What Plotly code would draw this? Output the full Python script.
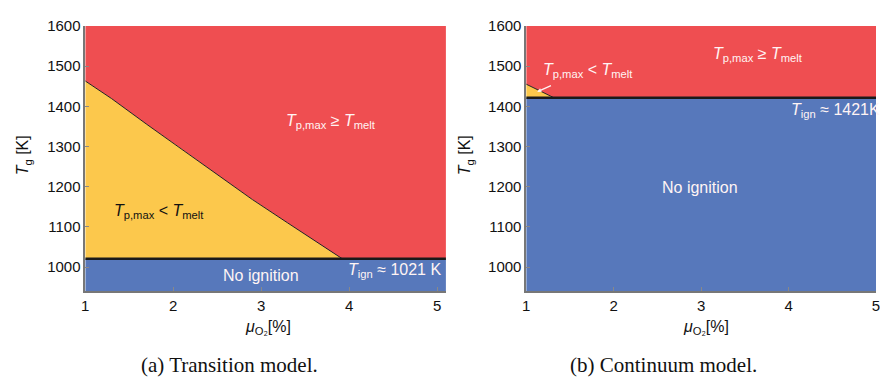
import plotly.graph_objects as go

# ---- data ----
mu_curve_a = [1.0, 1.3, 1.7, 2.1, 2.5, 2.9, 3.3, 3.6, 3.8, 3.92]
T_curve_a = [1463, 1419, 1355, 1293, 1230, 1168, 1110, 1066, 1037, 1021]
T_ign_a = 1021

mu_curve_b = [1.0, 1.32]
T_curve_b = [1455, 1421]
T_ign_b = 1421

x_range_a = [1, 5.1]
x_range_b = [1, 5.0]
y_range = [940, 1600]
x_ticks = [1, 2, 3, 4, 5]
y_ticks = [1000, 1100, 1200, 1300, 1400, 1500, 1600]

RED = "#EF4E51"
YEL = "#FCC84C"
BLU = "#5778BB"
FONT = "Liberation Sans"

fig = go.Figure()


def panel(xa, ya, mu_c, T_c, T_ign, xr):
    x0, x1 = xr
    y0, y1 = y_range
    fig.add_trace(go.Scatter(x=[x0, x1, x1, x0, x0], y=[y0, y0, T_ign, T_ign, y0],
                             fill="toself", fillcolor=BLU, mode="none",
                             xaxis=xa, yaxis=ya, hoverinfo="skip", showlegend=False))
    rx = list(mu_c) + [x1, x1, x0, x0]
    ry = list(T_c) + [T_ign, y1, y1, T_c[0]]
    fig.add_trace(go.Scatter(x=rx, y=ry, fill="toself", fillcolor=RED, mode="none",
                             xaxis=xa, yaxis=ya, hoverinfo="skip", showlegend=False))
    yx = list(mu_c) + [x0, x0]
    yy = list(T_c) + [T_ign, T_c[0]]
    fig.add_trace(go.Scatter(x=yx, y=yy, fill="toself", fillcolor=YEL, mode="none",
                             xaxis=xa, yaxis=ya, hoverinfo="skip", showlegend=False))
    fig.add_trace(go.Scatter(x=mu_c, y=T_c, mode="lines", line=dict(color="#222", width=1),
                             xaxis=xa, yaxis=ya, hoverinfo="skip", showlegend=False))
    fig.add_trace(go.Scatter(x=[x0, x1], y=[T_ign, T_ign], mode="lines",
                             line=dict(color="#1a1a1a", width=2.5),
                             xaxis=xa, yaxis=ya, hoverinfo="skip", showlegend=False))


panel("x", "y", mu_curve_a, T_curve_a, T_ign_a, x_range_a)
panel("x2", "y2", mu_curve_b, T_curve_b, T_ign_b, x_range_b)

ax_common = dict(showgrid=False, zeroline=False, showline=True, linecolor="#777", linewidth=1.5,
                 ticks="inside", ticklen=4, tickcolor="#888", tickwidth=1,
                 ticklabeloverflow="allow",
                 tickfont=dict(family=FONT, size=15, color="#111"), mirror=False)

top = 1 - 17.3 / 384
bot = 1 - 289 / 384
fig.update_layout(
    width=880, height=384,
    margin=dict(l=0, r=0, t=0, b=0),
    paper_bgcolor="white", plot_bgcolor="white",
    xaxis=dict(domain=[82 / 880, 446 / 880], range=x_range_a, tickvals=x_ticks, anchor="y", **ax_common),
    yaxis=dict(domain=[bot, top], range=y_range, tickvals=y_ticks, anchor="x", **ax_common),
    xaxis2=dict(domain=[527 / 880, 1.0], range=x_range_b, tickvals=x_ticks, anchor="y2", **ax_common),
    yaxis2=dict(domain=[bot, top], range=y_range, tickvals=y_ticks, anchor="x2", **ax_common),
)

lab_w = "<i>T</i><sub>p,max</sub> ≥ <i>T</i><sub>melt</sub>"
lab_y = "<i>T</i><sub>p,max</sub> &lt; <i>T</i><sub>melt</sub>"
W = "#FFF4F4"
ann = [
    dict(x=3.79, y=1362, xref="x", yref="y", text=lab_w, font=dict(color=W, size=16, family=FONT)),
    dict(x=1.84, y=1138, xref="x", yref="y", text=lab_y, font=dict(color="#111", size=16, family=FONT)),
    dict(x=3.0, y=978, xref="x", yref="y", text="No ignition", font=dict(color=W, size=16, family=FONT)),
    dict(x=4.52, y=992, xref="x", yref="y",
         text="<i>T</i><sub>ign</sub> ≈ 1021 K", font=dict(color=W, size=16, family=FONT)),
    dict(x=3.65, y=1528, xref="x2", yref="y2", text=lab_w, font=dict(color=W, size=16, family=FONT)),
    dict(x=1.71, y=1490, xref="x2", yref="y2", text=lab_y, font=dict(color=W, size=16, family=FONT)),
    dict(x=2.99, y=1197, xref="x2", yref="y2", text="No ignition", font=dict(color=W, size=16, family=FONT)),
    dict(x=792 / 880, y=1390, xref="paper", yref="y2", xanchor="left",
         text="<i>T</i><sub>ign</sub> ≈ 1421K", font=dict(color=W, size=16, family=FONT)),
    dict(x=1.125, y=1436, xref="x2", yref="y2", ax=1.30, ay=1453, axref="x2", ayref="y2",
         text="", showarrow=True, arrowhead=2, arrowsize=0.7, arrowwidth=1.2, arrowcolor="#FFF4F4"),
    dict(x=20 / 880, y=1 - 150 / 384, xref="paper", yref="paper", textangle=-90,
         text="<i>T</i><sub>g</sub> [K]", font=dict(color="#111", size=16, family=FONT)),
    dict(x=466 / 880, y=1 - 150 / 384, xref="paper", yref="paper", textangle=-90,
         text="<i>T</i><sub>g</sub> [K]", font=dict(color="#111", size=16, family=FONT)),
    dict(x=266 / 880, y=1 - 326 / 384, xref="paper", yref="paper",
         text="<i>μ</i><sub>O₂</sub>[%]", font=dict(color="#111", size=16, family=FONT)),
    dict(x=708 / 880, y=1 - 326 / 384, xref="paper", yref="paper",
         text="<i>μ</i><sub>O₂</sub>[%]", font=dict(color="#111", size=16, family=FONT)),
    dict(x=228 / 880, y=1 - 365 / 384, xref="paper", yref="paper",
         text="(a) Transition model.", font=dict(color="#111", size=21, family="Liberation Serif")),
    dict(x=666 / 880, y=1 - 365 / 384, xref="paper", yref="paper",
         text="(b) Continuum model.", font=dict(color="#111", size=21, family="Liberation Serif")),
]
for a in ann:
    a.setdefault("showarrow", False)
    a.setdefault("xanchor", "center")
    a.setdefault("yanchor", "middle")
fig.update_layout(annotations=ann)

fig.write_html("out.html", config={"displayModeBar": False},
               post_script="document.body.style.margin='0';document.body.style.overflow='hidden';")
